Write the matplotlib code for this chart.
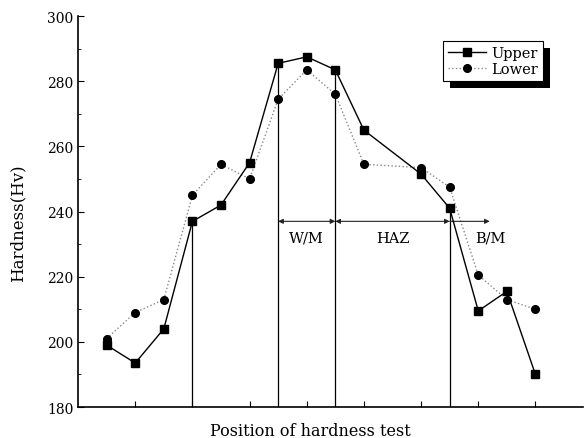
import matplotlib
matplotlib.use("Agg")
import matplotlib.pyplot as plt
from matplotlib.patches import Rectangle
from matplotlib.ticker import MultipleLocator

plt.rcParams['font.family'] = ['DejaVu Serif']

# positions along the specimen (tick spacing = 1)
x_upper = [0.5, 1, 1.5, 2, 2.5, 3, 3.5, 4, 4.5, 5, 6, 6.5, 7, 7.5, 8]
upper = [199, 193.5, 204, 237, 242, 255, 285.5, 287.5, 283.5, 265, 251.5, 241, 209.5, 215.5, 190]
x_lower = [0.5, 1, 1.5, 2, 2.5, 3, 3.5, 4, 4.5, 5, 6, 6.5, 7, 7.5, 8]
lower = [201, 209, 213, 245, 254.5, 250, 274.5, 283.5, 276, 254.5, 253.5, 247.5, 220.5, 213, 210]

# zone boundaries (indices into upper series)
boundary_idx = [3, 6, 8, 11]
zone_names = ["W/M", "HAZ", "B/M"]
zone_label_x = [4.0, 5.5, 7.22]
dim_y = 237
bm_end = 7.2

fig = plt.figure(figsize=(5.87, 4.39), dpi=100)
ax = fig.add_axes([0.133, 0.0706, 0.86, 0.8904])

ax.plot(x_lower, lower, ':', color='#888888', lw=1.0, marker='o', ms=5.5,
        mfc='black', mec='black', label='Lower', zorder=3)
ax.plot(x_upper, upper, '-', color='black', lw=1.0, marker='s', ms=6,
        mfc='black', mec='black', label='Upper', zorder=4)

# drop lines at zone boundaries
for i in boundary_idx:
    ax.vlines(x_upper[i], 180, upper[i], color='black', lw=0.9, zorder=2)

# dimension arrows
bx = [x_upper[i] for i in boundary_idx]
arrow_kw = dict(arrowstyle='<|-|>', color='#222222', lw=0.8,
                mutation_scale=7, shrinkA=0, shrinkB=0)
ax.annotate('', xy=(bx[1], dim_y), xytext=(bx[2], dim_y), arrowprops=arrow_kw)
ax.annotate('', xy=(bx[2], dim_y), xytext=(bx[3], dim_y), arrowprops=arrow_kw)
ax.annotate('', xy=(bx[3], dim_y), xytext=(bm_end, dim_y),
            arrowprops=dict(arrow_kw, arrowstyle='<|-'))
for name, lx in zip(zone_names, zone_label_x):
    ax.text(lx, 232, name, ha='center', va='center', fontsize=10.5)

ax.set_xlim(0, 8.83)
ax.set_ylim(180, 300)
ax.set_xticks(range(1, 9))
ax.set_xticklabels([])
ax.set_yticks(range(180, 301, 20))
ax.yaxis.set_minor_locator(MultipleLocator(10))
ax.tick_params(direction='in', labelsize=10, length=4, width=0.8)
ax.tick_params(axis='y', which='minor', direction='in', length=2.5, width=0.6)
ax.spines['top'].set_visible(False)
ax.spines['right'].set_visible(False)
ax.spines['left'].set_linewidth(1.2)
ax.spines['bottom'].set_linewidth(1.2)

ax.set_ylabel('Hardness(Hv)', fontsize=12)
ax.yaxis.set_label_coords(-0.103, 0.473)
ax.set_xlabel('Position of hardness test', fontsize=11.5)
ax.xaxis.set_label_coords(0.461, -0.038)

handles, labels = ax.get_legend_handles_labels()
leg = ax.legend(handles[::-1], labels[::-1], loc='upper left',
                bbox_to_anchor=(0.708, 0.955), fontsize=10.5, frameon=True,
                fancybox=False, edgecolor='black', framealpha=1,
                handlelength=2.6, handletextpad=0.4, borderpad=0.35,
                labelspacing=0.15)
leg.get_frame().set_linewidth(0.8)
leg.set_zorder(6)

fig.canvas.draw()
bb = leg.get_window_extent()
shadow = Rectangle((bb.x0 + 7, bb.y0 - 7), bb.width, bb.height,
                   transform=None, facecolor='black', edgecolor='none', zorder=5.5)
ax.add_artist(shadow)

fig.savefig('out.png', dpi=100)
